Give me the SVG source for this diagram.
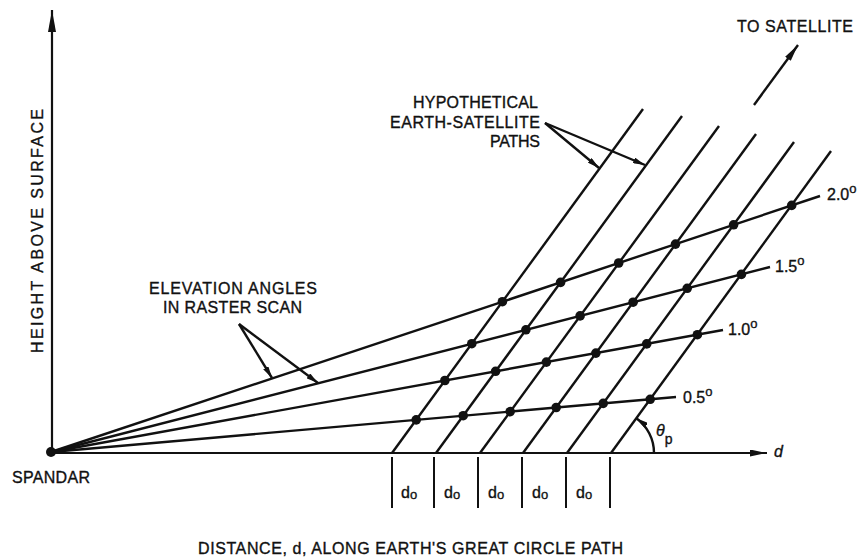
<svg xmlns="http://www.w3.org/2000/svg" width="861" height="557" viewBox="0 0 861 557">
<style>
.t{font-family:"Liberation Sans",Arial,sans-serif;font-size:16px;fill:#111;stroke:#111;stroke-width:0.35px}
.ln{stroke:#111;stroke-width:2.4;fill:none}
.ax{stroke:#111;stroke-width:2.2;fill:none}
.dot{fill:#111}
.tk{stroke:#111;stroke-width:2}
</style>
<defs>
<marker id="ahBig" markerUnits="userSpaceOnUse" markerWidth="22" markerHeight="8" refX="22" refY="4" orient="auto"><path d="M0,0 L22,4 L0,8 Z" fill="#111"/></marker>
<marker id="ah" markerUnits="userSpaceOnUse" markerWidth="17" markerHeight="7" refX="17" refY="3.5" orient="auto"><path d="M0,0 L17,3.5 L0,7 Z" fill="#111"/></marker>
<marker id="ahS" markerUnits="userSpaceOnUse" markerWidth="12" markerHeight="6" refX="12" refY="3" orient="auto"><path d="M0,0 L12,3 L0,6 Z" fill="#111"/></marker>
</defs>
<rect width="861" height="557" fill="#fff"/>

<g id="axes">
<line class="ax" x1="52" y1="452" x2="52" y2="10" marker-end="url(#ahBig)"/>
<line class="ax" x1="51" y1="453" x2="767" y2="453" marker-end="url(#ah)"/>
</g>

<g id="connectors">
<line class="ln" x1="51" y1="452" x2="820" y2="196"/>
<line class="ln" x1="51" y1="452" x2="770" y2="267"/>
<line class="ln" x1="51" y1="452" x2="723" y2="330"/>
<line class="ln" x1="51" y1="452" x2="676" y2="397"/>
<line class="ln" x1="392" y1="453" x2="643" y2="109"/>
<line class="ln" x1="436" y1="453" x2="682" y2="116"/>
<line class="ln" x1="480" y1="453" x2="719" y2="126"/>
<line class="ln" x1="523" y1="453" x2="756" y2="134"/>
<line class="ln" x1="567" y1="453" x2="794" y2="142"/>
<line class="ln" x1="611" y1="453" x2="831" y2="151"/>
<line class="ln" x1="754" y1="105" x2="798" y2="45" marker-end="url(#ah)"/>
<line class="ln" x1="545" y1="123" x2="599" y2="168" stroke-width="1.8" marker-end="url(#ahS)"/>
<line class="ln" x1="545" y1="123" x2="645" y2="165" stroke-width="1.8" marker-end="url(#ahS)"/>
<line class="ln" x1="239" y1="324" x2="272" y2="378" stroke-width="1.8" marker-end="url(#ahS)"/>
<line class="ln" x1="239" y1="324" x2="318" y2="383" stroke-width="1.8" marker-end="url(#ahS)"/>
<path class="ln" d="M654,453 A43,43 0 0 0 636.4,418.3" stroke-width="1.8" marker-end="url(#ahS)"/>
<line class="tk" x1="392" y1="457" x2="392" y2="508"/>
<line class="tk" x1="434" y1="457" x2="434" y2="508"/>
<line class="tk" x1="478" y1="457" x2="478" y2="508"/>
<line class="tk" x1="522" y1="457" x2="522" y2="508"/>
<line class="tk" x1="566" y1="457" x2="566" y2="508"/>
<line class="tk" x1="610" y1="457" x2="610" y2="508"/>
</g>

<g id="spandar">
<circle class="dot" cx="51" cy="452" r="5"/>
<text class="t" x="12" y="483" textLength="78">SPANDAR</text>
</g>

<g id="grid-dots">
<circle class="dot" cx="502.4" cy="301.7" r="4.8"/>
<circle class="dot" cx="560.6" cy="282.4" r="4.8"/>
<circle class="dot" cx="618.7" cy="263.0" r="4.8"/>
<circle class="dot" cx="675.5" cy="244.1" r="4.8"/>
<circle class="dot" cx="733.6" cy="224.8" r="4.8"/>
<circle class="dot" cx="791.7" cy="205.4" r="4.8"/>
<circle class="dot" cx="471.8" cy="343.7" r="4.8"/>
<circle class="dot" cx="525.9" cy="329.8" r="4.8"/>
<circle class="dot" cx="580.1" cy="315.9" r="4.8"/>
<circle class="dot" cx="633.1" cy="302.2" r="4.8"/>
<circle class="dot" cx="687.2" cy="288.3" r="4.8"/>
<circle class="dot" cx="741.4" cy="274.4" r="4.8"/>
<circle class="dot" cx="444.9" cy="380.5" r="4.8"/>
<circle class="dot" cx="495.6" cy="371.3" r="4.8"/>
<circle class="dot" cx="546.4" cy="362.1" r="4.8"/>
<circle class="dot" cx="595.9" cy="353.1" r="4.8"/>
<circle class="dot" cx="646.7" cy="343.9" r="4.8"/>
<circle class="dot" cx="697.4" cy="334.7" r="4.8"/>
<circle class="dot" cx="416.2" cy="419.9" r="4.8"/>
<circle class="dot" cx="463.2" cy="415.7" r="4.8"/>
<circle class="dot" cx="510.2" cy="411.6" r="4.8"/>
<circle class="dot" cx="556.2" cy="407.5" r="4.8"/>
<circle class="dot" cx="603.2" cy="403.4" r="4.8"/>
<circle class="dot" cx="650.2" cy="399.3" r="4.8"/>
</g>

<g id="angle-labels">
<text class="t" x="827" y="200" font-size="17">2.0<tspan font-size="13" dy="-7">o</tspan></text>
<text class="t" x="775" y="272" font-size="17">1.5<tspan font-size="13" dy="-7">o</tspan></text>
<text class="t" x="728" y="335" font-size="17">1.0<tspan font-size="13" dy="-7">o</tspan></text>
<text class="t" x="683" y="403" font-size="17">0.5<tspan font-size="13" dy="-7">o</tspan></text>
</g>

<g id="label-satellite">
<text class="t" x="737" y="32" textLength="116">TO SATELLITE</text>
</g>

<g id="label-paths">
<text class="t" x="413" y="108" textLength="125">HYPOTHETICAL</text>
<text class="t" x="390" y="128" textLength="150">EARTH-SATELLITE</text>
<text class="t" x="490" y="147" textLength="50">PATHS</text>
</g>

<g id="label-elevation">
<text class="t" x="149" y="294" textLength="168">ELEVATION ANGLES</text>
<text class="t" x="163" y="313" textLength="139">IN RASTER SCAN</text>
</g>

<g id="label-height">
<text class="t" transform="translate(43,353) rotate(-90)" x="0" y="0" textLength="244">HEIGHT ABOVE SURFACE</text>
</g>

<g id="label-theta">
<text class="t" x="656" y="436" font-style="italic" font-size="17">θ<tspan font-size="14" font-style="normal" dy="8">p</tspan></text>
</g>

<g id="label-d">
<text class="t" x="774" y="457" font-style="italic" font-size="16">d</text>
</g>

<g id="d-intervals">
<text class="t" x="401" y="498" font-size="17">d<tspan font-size="13" dy="1">o</tspan></text>
<text class="t" x="444" y="498" font-size="17">d<tspan font-size="13" dy="1">o</tspan></text>
<text class="t" x="488" y="498" font-size="17">d<tspan font-size="13" dy="1">o</tspan></text>
<text class="t" x="532" y="498" font-size="17">d<tspan font-size="13" dy="1">o</tspan></text>
<text class="t" x="576" y="498" font-size="17">d<tspan font-size="13" dy="1">o</tspan></text>
</g>

<g id="label-distance">
<text class="t" x="198" y="554" textLength="425">DISTANCE, d, ALONG EARTH'S GREAT CIRCLE PATH</text>
</g>
</svg>
